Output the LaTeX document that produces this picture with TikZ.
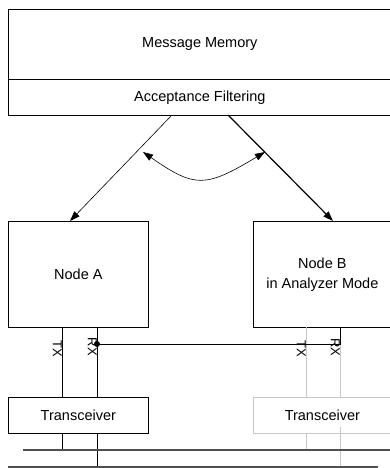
\documentclass[tikz,border=0pt]{standalone}
\usepackage{fontspec}
\setmainfont{Liberation Sans}
\usetikzlibrary{arrows.meta}
\newcommand{\mainsz}{\fontsize{14.5}{20}\selectfont}
\newcommand{\lblsz}{\fontsize{13}{15}\selectfont}
\definecolor{lightln}{HTML}{C8C8C8}
\definecolor{busln}{HTML}{505050}
\tikzset{
  box/.style={draw, line width=0.7pt, inner sep=0pt, anchor=north west, font=\mainsz, align=center},
  ghostbox/.style={box, draw=lightln},
  lbl/.style={font=\lblsz, rotate=-90, inner sep=0pt, anchor=north},
  wire/.style={line width=0.7pt},
  ghostwire/.style={line width=1pt, draw=lightln},
  bus/.style={line width=1.2pt, draw=busln},
  arr/.style={line width=0.6pt, -{Triangle[length=10pt,width=7pt]}},
  thickarr/.style={line width=1.2pt, -{Triangle[length=10pt,width=7pt]}},
  dblarr/.style={line width=0.6pt, {Triangle[length=10pt,width=7pt]}-{Triangle[length=10pt,width=7pt]}}
}
\begin{document}
\begin{tikzpicture}[x=1pt,y=-1pt]
\useasboundingbox (0,0) rectangle (390,468);
\fill[white] (0,0) rectangle (390,468);
\clip (0,0) rectangle (390,468);

% boxes
\node[box, minimum width=383pt, minimum height=70pt] (mm) at (8,9) {Message Memory};
\node[box, minimum width=383pt, minimum height=36pt] (af) at (8,79) {Acceptance Filtering};
\node[box, minimum width=140pt, minimum height=106pt] (na) at (8,221) {Node A};
\node[box, minimum width=138pt, minimum height=106pt] (nb) at (253,221) {Node B\\in Analyzer Mode};
\node[box, minimum width=140pt, minimum height=36pt] (ta) at (8,397) {Transceiver};
\node[ghostbox, minimum width=138pt, minimum height=36pt] (tb) at (253,397) {Transceiver};

% arrow end points
\coordinate (afL) at (172,115);
\coordinate (afR) at (228,115);
\coordinate (naT) at (70,221);
\coordinate (nbT) at (333,221);
\coordinate (cL) at (143,152);
\coordinate (cR) at (265,152);

\draw[arr] (afL) -- (naT);
\draw[thickarr] (afR) -- (nbT);
\draw[dblarr] (cL) .. controls (195,188) and (205,188) .. (cR);

% bus lines
\coordinate (busUa) at (23,450);
\coordinate (busUb) at (392,450);
\coordinate (busLa) at (8,467);
\coordinate (busLb) at (378,467);

% node B wires (gray)
\coordinate (txB1) at (306,327);
\coordinate (txB2) at (306,397);
\coordinate (txB3) at (306,433);
\coordinate (txB4) at (306,450);
\coordinate (rxB0) at (340,327);
\coordinate (rxB1) at (340,344);
\coordinate (rxB2) at (340,397);
\coordinate (rxB3) at (340,427);
\coordinate (rxB4) at (340,467);
\draw[ghostwire] (txB1) -- (txB2);
\draw[ghostwire] (txB3) -- (txB4);
\draw[ghostwire] (rxB1) -- (rxB2);
\draw[ghostwire] (rxB3) -- (rxB4);

% node A wires
\coordinate (txA1) at (62,327);
\coordinate (txA2) at (62,397);
\coordinate (txA3) at (62,433);
\coordinate (txA4) at (62,450);
\coordinate (rxA1) at (97,327);
\coordinate (rxA2) at (97,397);
\coordinate (rxA3) at (97,433);
\coordinate (rxA4) at (97,467);
\coordinate (dot) at (97,344);
\draw[wire] (txA1) -- (txA2);
\draw[wire] (txA3) -- (txA4);
\draw[wire] (rxA1) -- (rxA2);
\draw[wire] (rxA3) -- (rxA4);

\draw[bus] (busUa) -- (busUb);
\draw[bus] (busLa) -- (busLb);

% monitor connection
\draw[wire] (dot) -- (rxB1) -- (rxB0);
\fill (dot) circle (3pt);

% labels
\node[lbl] (lTXA) at (62,348.5) {TX};
\node[lbl] (lRXA) at (97,347) {RX};
\node[lbl] (lTXB) at (306,348.5) {TX};
\node[lbl] (lRXB) at (340,347.5) {RX};
\end{tikzpicture}
\end{document}
